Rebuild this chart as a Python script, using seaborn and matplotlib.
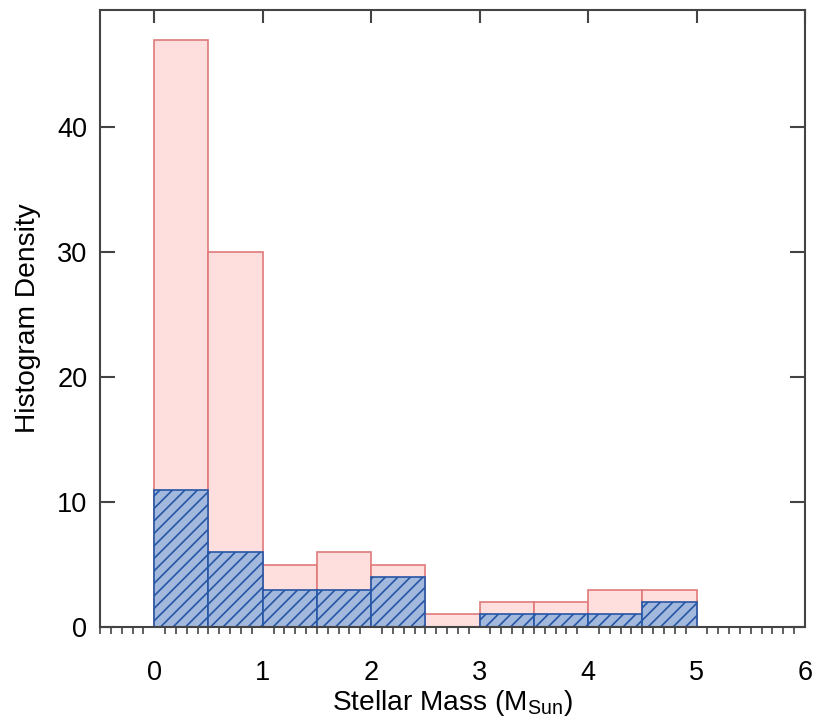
import numpy as np
import pandas as pd
import matplotlib
matplotlib.use('Agg')
import matplotlib.pyplot as plt
from matplotlib.ticker import MultipleLocator
import seaborn as sns

# Histogram values (bin width 0.5 M_Sun)
bin_edges = [0.0, 0.5, 1.0, 1.5, 2.0, 2.5, 3.0, 3.5, 4.0, 4.5, 5.0, 5.5, 6.0]
all_density = [47, 30, 5, 6, 5, 1, 2, 2, 3, 3, 0, 0]
sub_density = [11, 6, 3, 3, 4, 0, 1, 1, 1, 2, 0, 0]

centers = [(a + b) / 2 for a, b in zip(bin_edges[:-1], bin_edges[1:])]
df = pd.DataFrame({'mass': centers, 'all': all_density, 'sub': sub_density})

sns.set_style('white')
plt.rcParams['font.family'] = ['Liberation Sans', 'DejaVu Sans']
plt.rcParams['mathtext.default'] = 'regular'
plt.rcParams['hatch.linewidth'] = 0.8
plt.rcParams['text.color'] = 'black'
plt.rcParams['axes.labelcolor'] = 'black'
plt.rcParams['xtick.color'] = 'black'
plt.rcParams['ytick.color'] = 'black'

fig = plt.figure(figsize=(5.5, 4.807), dpi=150)
ax = fig.add_axes([0.1212, 0.1304, 0.8546, 0.8557])

sns.histplot(data=df, x='mass', weights='all', bins=bin_edges, ax=ax,
             color='#ffdede', edgecolor='#e07a7a', linewidth=0.8, alpha=1)
sns.histplot(data=df, x='mass', weights='sub', bins=bin_edges, ax=ax,
             color='#a2b8dc', edgecolor='#2656a6', linewidth=0.8, alpha=1,
             hatch='////')

ax.set_xlim(-0.5, 6)
ax.set_ylim(0, 49.4)
ax.set_xticks(range(0, 7))
ax.set_yticks([0, 10, 20, 30, 40])
ax.xaxis.set_minor_locator(MultipleLocator(0.1))

for s in ax.spines.values():
    s.set_color('#444444')
    s.set_linewidth(1.0)

ax.tick_params(axis='x', which='major', direction='out', length=7, width=1,
               color='#444444', labelsize=13, pad=9, top=False)
ax.tick_params(axis='x', which='minor', direction='out', length=3.5, width=0.8,
               color='#444444', bottom=True, top=False)
ax.tick_params(axis='y', which='major', direction='in', length=7, width=1,
               color='#444444', labelsize=13, left=True, right=True, pad=6)

# top ticks pointing inward, no labels
top = ax.secondary_xaxis('top')
top.set_xticks(range(0, 7))
top.tick_params(direction='in', length=6, width=1, color='#444444', labeltop=False)
top.spines['top'].set_visible(False)

ax.set_xlabel('Stellar Mass (M$_{Sun}$)', fontsize=13.5, labelpad=1)
ax.set_ylabel('Histogram Density', fontsize=13.5, labelpad=8)

fig.savefig('out.png', dpi=150)
